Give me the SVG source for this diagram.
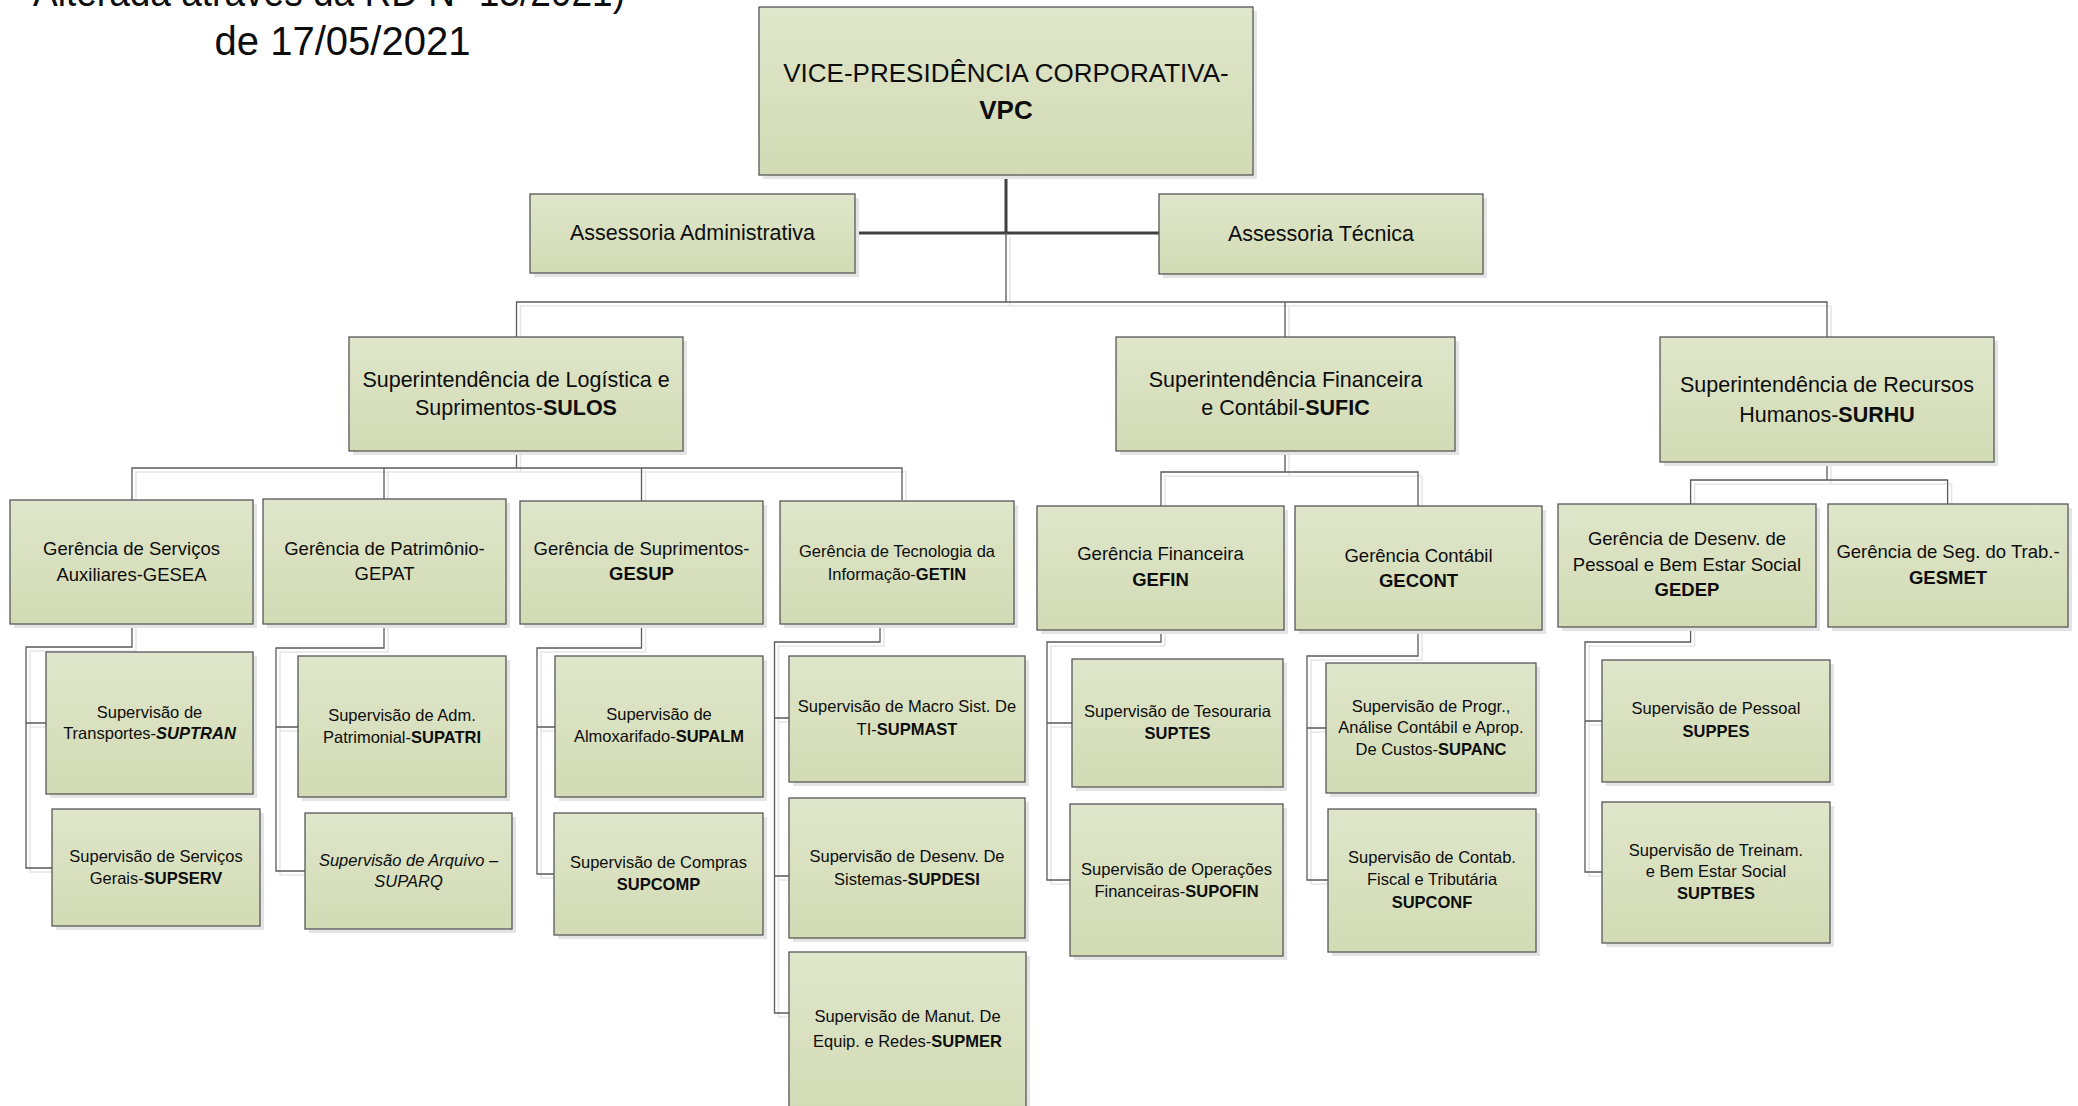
<svg xmlns="http://www.w3.org/2000/svg" xmlns:xlink="http://www.w3.org/1999/xlink" width="2078" height="1106" viewBox="0 0 2078 1106">
<defs>
<linearGradient id="g" x1="0" y1="0" x2="0" y2="1">
<stop offset="0" stop-color="#dfe6cb"/>
<stop offset="1" stop-color="#d2dbb4"/>
</linearGradient>
<style>
.bx{fill:url(#g);stroke:#585858;stroke-width:1.3}
.sh{fill:#e4e4e4}
text{font-family:"Liberation Sans",Arial,sans-serif;fill:#0d0d0d;text-anchor:middle}
.t40{font-size:40px}
.t26{font-size:26px}
.t21{font-size:21.5px}
.t18{font-size:18.5px}
.t16{font-size:16.5px}
.b{font-weight:bold}
.i{font-style:italic}
.c{fill:none;stroke:#5a5a5a;stroke-width:1.3}
.cs{fill:none;stroke:#e6e6e6;stroke-width:1.6}
.ck{fill:none;stroke:#404040;stroke-width:3}
</style>
</defs>
<rect width="2078" height="1106" fill="#ffffff"/>

<g id="title">
<text class="t40" x="33" y="6" style="text-anchor:start" textLength="592" lengthAdjust="spacingAndGlyphs">Alterada através da RD Nº 15/2021)</text>
<text class="t40" x="342.5" y="55">de 17/05/2021</text>
</g>

<g id="connectors">
<g id="conn-shadow" transform="translate(4,4)">
<path class="cs" d="M1006,233 V302 M516.5,337 V302 H1827 V337 M1285,302 V337"/>
<path class="cs" d="M516.5,451 V468 M132,500 V468 H902 V500 M384,468 V499 M641.5,468 V501"/>
<path class="cs" d="M132,624 V647 H26 V868 H52 M26,723 H46"/>
<path class="cs" d="M384,624 V648 H276 V871 H305 M276,727 H298"/>
<path class="cs" d="M641.5,624 V648 H537 V874 H554 M537,727 H555"/>
<path class="cs" d="M880,624 V642 H774.5 V1013 H789 M774.5,718 H789 M774.5,876 H789"/>
<path class="cs" d="M1285,451 V472 M1161,506 V472 H1418 V506"/>
<path class="cs" d="M1161,630 V642 H1047 V880 H1070 M1047,723 H1072"/>
<path class="cs" d="M1418,630 V656 H1307 V880 H1328 M1307,728 H1326"/>
<path class="cs" d="M1827,462 V480 M1690.6,504 V480 H1947.6 V504"/>
<path class="cs" d="M1690.6,627 V642 H1585 V872 H1602 M1585,721 H1602"/>
</g>
<path class="ck" d="M1006,175 V233 M855,233 H1159"/>
<path class="c" d="M1006,233 V302 M516.5,337 V302 H1827 V337 M1285,302 V337"/>
<path class="c" d="M516.5,451 V468 M132,500 V468 H902 V500 M384,468 V499 M641.5,468 V501"/>
<path class="c" d="M132,624 V647 H26 V868 H52 M26,723 H46"/>
<path class="c" d="M384,624 V648 H276 V871 H305 M276,727 H298"/>
<path class="c" d="M641.5,624 V648 H537 V874 H554 M537,727 H555"/>
<path class="c" d="M880,624 V642 H774.5 V1013 H789 M774.5,718 H789 M774.5,876 H789"/>
<path class="c" d="M1285,451 V472 M1161,506 V472 H1418 V506"/>
<path class="c" d="M1161,630 V642 H1047 V880 H1070 M1047,723 H1072"/>
<path class="c" d="M1418,630 V656 H1307 V880 H1328 M1307,728 H1326"/>
<path class="c" d="M1827,462 V480 M1690.6,504 V480 H1947.6 V504"/>
<path class="c" d="M1690.6,627 V642 H1585 V872 H1602 M1585,721 H1602"/>
</g>

<g id="VPC">
<rect class="sh" x="763" y="11" width="494" height="168"/>
<rect class="bx" x="759" y="7" width="494" height="168"/>
<text class="t26" x="1006" y="82">VICE-PRESIDÊNCIA CORPORATIVA-</text>
<text class="t26 b" x="1006" y="119">VPC</text>
</g>

<g id="ASSADM">
<rect class="sh" x="534" y="198" width="325" height="79"/>
<rect class="bx" x="530" y="194" width="325" height="79"/>
<text class="t21" x="692.5" y="240">Assessoria Administrativa</text>
</g>

<g id="ASSTEC">
<rect class="sh" x="1163" y="198" width="324" height="80"/>
<rect class="bx" x="1159" y="194" width="324" height="80"/>
<text class="t21" x="1321" y="241">Assessoria Técnica</text>
</g>

<g id="SULOS">
<rect class="sh" x="353" y="341" width="334" height="114"/>
<rect class="bx" x="349" y="337" width="334" height="114"/>
<text class="t21" x="516" y="387">Superintendência de Logística e</text>
<text class="t21" x="516" y="415">Suprimentos-<tspan class="b">SULOS</tspan></text>
</g>

<g id="SUFIC">
<rect class="sh" x="1120" y="341" width="339" height="114"/>
<rect class="bx" x="1116" y="337" width="339" height="114"/>
<text class="t21" x="1285.5" y="387">Superintendência Financeira</text>
<text class="t21" x="1285.5" y="415">e Contábil-<tspan class="b">SUFIC</tspan></text>
</g>

<g id="SURHU">
<rect class="sh" x="1664" y="341" width="334" height="125"/>
<rect class="bx" x="1660" y="337" width="334" height="125"/>
<text class="t21" x="1827" y="392">Superintendência de Recursos</text>
<text class="t21" x="1827" y="422">Humanos-<tspan class="b">SURHU</tspan></text>
</g>

<g id="GESEA">
<rect class="sh" x="14" y="504" width="243" height="124"/>
<rect class="bx" x="10" y="500" width="243" height="124"/>
<text class="t18" x="131.5" y="555">Gerência de Serviços</text>
<text class="t18" x="131.5" y="581">Auxiliares-GESEA</text>
</g>

<g id="GEPAT">
<rect class="sh" x="267" y="503" width="243" height="125"/>
<rect class="bx" x="263" y="499" width="243" height="125"/>
<text class="t18" x="384.5" y="555">Gerência de Patrimônio-</text>
<text class="t18" x="384.5" y="580">GEPAT</text>
</g>

<g id="GESUP">
<rect class="sh" x="524" y="505" width="243" height="123"/>
<rect class="bx" x="520" y="501" width="243" height="123"/>
<text class="t18" x="641.5" y="555">Gerência de Suprimentos-</text>
<text class="t18 b" x="641.5" y="580">GESUP</text>
</g>

<g id="GETIN">
<rect class="sh" x="784" y="505" width="234" height="123"/>
<rect class="bx" x="780" y="501" width="234" height="123"/>
<text class="t16" x="897" y="557">Gerência de Tecnologia da</text>
<text class="t16" x="897" y="580">Informação-<tspan class="b">GETIN</tspan></text>
</g>

<g id="GEFIN">
<rect class="sh" x="1041" y="510" width="247" height="124"/>
<rect class="bx" x="1037" y="506" width="247" height="124"/>
<text class="t18" x="1160.5" y="560">Gerência Financeira</text>
<text class="t18 b" x="1160.5" y="586">GEFIN</text>
</g>

<g id="GECONT">
<rect class="sh" x="1299" y="510" width="247" height="124"/>
<rect class="bx" x="1295" y="506" width="247" height="124"/>
<text class="t18" x="1418.5" y="562">Gerência Contábil</text>
<text class="t18 b" x="1418.5" y="587">GECONT</text>
</g>

<g id="GEDEP">
<rect class="sh" x="1562" y="508" width="258" height="123"/>
<rect class="bx" x="1558" y="504" width="258" height="123"/>
<text class="t18" x="1687" y="545">Gerência de Desenv. de</text>
<text class="t18" x="1687" y="571">Pessoal e Bem Estar Social</text>
<text class="t18 b" x="1687" y="596">GEDEP</text>
</g>

<g id="GESMET">
<rect class="sh" x="1832" y="508" width="240" height="123"/>
<rect class="bx" x="1828" y="504" width="240" height="123"/>
<text class="t18" x="1948" y="558">Gerência de Seg. do Trab.-</text>
<text class="t18 b" x="1948" y="584">GESMET</text>
</g>

<g id="SUPTRAN">
<rect class="sh" x="50" y="656" width="207" height="142"/>
<rect class="bx" x="46" y="652" width="207" height="142"/>
<text class="t16" x="149.5" y="718">Supervisão de</text>
<text class="t16" x="149.5" y="739">Transportes-<tspan class="b i">SUPTRAN</tspan></text>
</g>

<g id="SUPSERV">
<rect class="sh" x="56" y="813" width="208" height="117"/>
<rect class="bx" x="52" y="809" width="208" height="117"/>
<text class="t16" x="156" y="862">Supervisão de Serviços</text>
<text class="t16" x="156" y="884">Gerais-<tspan class="b">SUPSERV</tspan></text>
</g>

<g id="SUPATRI">
<rect class="sh" x="302" y="660" width="208" height="141"/>
<rect class="bx" x="298" y="656" width="208" height="141"/>
<text class="t16" x="402" y="721">Supervisão de Adm.</text>
<text class="t16" x="402" y="743">Patrimonial-<tspan class="b">SUPATRI</tspan></text>
</g>

<g id="SUPARQ">
<rect class="sh" x="309" y="817" width="207" height="116"/>
<rect class="bx" x="305" y="813" width="207" height="116"/>
<text class="t16 i" x="408.5" y="866">Supervisão de Arquivo –</text>
<text class="t16 i" x="408.5" y="887">SUPARQ</text>
</g>

<g id="SUPALM">
<rect class="sh" x="559" y="660" width="208" height="141"/>
<rect class="bx" x="555" y="656" width="208" height="141"/>
<text class="t16" x="659" y="720">Supervisão de</text>
<text class="t16" x="659" y="742">Almoxarifado-<tspan class="b">SUPALM</tspan></text>
</g>

<g id="SUPCOMP">
<rect class="sh" x="558" y="817" width="209" height="122"/>
<rect class="bx" x="554" y="813" width="209" height="122"/>
<text class="t16" x="658.5" y="868">Supervisão de Compras</text>
<text class="t16 b" x="658.5" y="890">SUPCOMP</text>
</g>

<g id="SUPMAST">
<rect class="sh" x="793" y="660" width="236" height="126"/>
<rect class="bx" x="789" y="656" width="236" height="126"/>
<text class="t16" x="907" y="712">Supervisão de Macro Sist. De</text>
<text class="t16" x="907" y="735">TI-<tspan class="b">SUPMAST</tspan></text>
</g>

<g id="SUPDESI">
<rect class="sh" x="793" y="802" width="236" height="140"/>
<rect class="bx" x="789" y="798" width="236" height="140"/>
<text class="t16" x="907" y="862">Supervisão de Desenv. De</text>
<text class="t16" x="907" y="885">Sistemas-<tspan class="b">SUPDESI</tspan></text>
</g>

<g id="SUPMER">
<rect class="sh" x="793" y="956" width="237" height="170"/>
<rect class="bx" x="789" y="952" width="237" height="170"/>
<text class="t16" x="907.5" y="1022">Supervisão de Manut. De</text>
<text class="t16" x="907.5" y="1047">Equip. e Redes-<tspan class="b">SUPMER</tspan></text>
</g>

<g id="SUPTES">
<rect class="sh" x="1076" y="663" width="211" height="128"/>
<rect class="bx" x="1072" y="659" width="211" height="128"/>
<text class="t16" x="1177.5" y="717">Supervisão de Tesouraria</text>
<text class="t16 b" x="1177.5" y="739">SUPTES</text>
</g>

<g id="SUPOFIN">
<rect class="sh" x="1074" y="808" width="213" height="152"/>
<rect class="bx" x="1070" y="804" width="213" height="152"/>
<text class="t16" x="1176.5" y="875">Supervisão de Operações</text>
<text class="t16" x="1176.5" y="897">Financeiras-<tspan class="b">SUPOFIN</tspan></text>
</g>

<g id="SUPANC">
<rect class="sh" x="1330" y="667" width="210" height="130"/>
<rect class="bx" x="1326" y="663" width="210" height="130"/>
<text class="t16" x="1431" y="712">Supervisão de Progr.,</text>
<text class="t16" x="1431" y="733">Análise Contábil e Aprop.</text>
<text class="t16" x="1431" y="755">De Custos-<tspan class="b">SUPANC</tspan></text>
</g>

<g id="SUPCONF">
<rect class="sh" x="1332" y="813" width="208" height="143"/>
<rect class="bx" x="1328" y="809" width="208" height="143"/>
<text class="t16" x="1432" y="863">Supervisão de Contab.</text>
<text class="t16" x="1432" y="885">Fiscal e Tributária</text>
<text class="t16 b" x="1432" y="908">SUPCONF</text>
</g>

<g id="SUPPES">
<rect class="sh" x="1606" y="664" width="228" height="122"/>
<rect class="bx" x="1602" y="660" width="228" height="122"/>
<text class="t16" x="1716" y="714">Supervisão de Pessoal</text>
<text class="t16 b" x="1716" y="737">SUPPES</text>
</g>

<g id="SUPTBES">
<rect class="sh" x="1606" y="806" width="228" height="141"/>
<rect class="bx" x="1602" y="802" width="228" height="141"/>
<text class="t16" x="1716" y="856">Supervisão de Treinam.</text>
<text class="t16" x="1716" y="877">e Bem Estar Social</text>
<text class="t16 b" x="1716" y="899">SUPTBES</text>
</g>
</svg>
